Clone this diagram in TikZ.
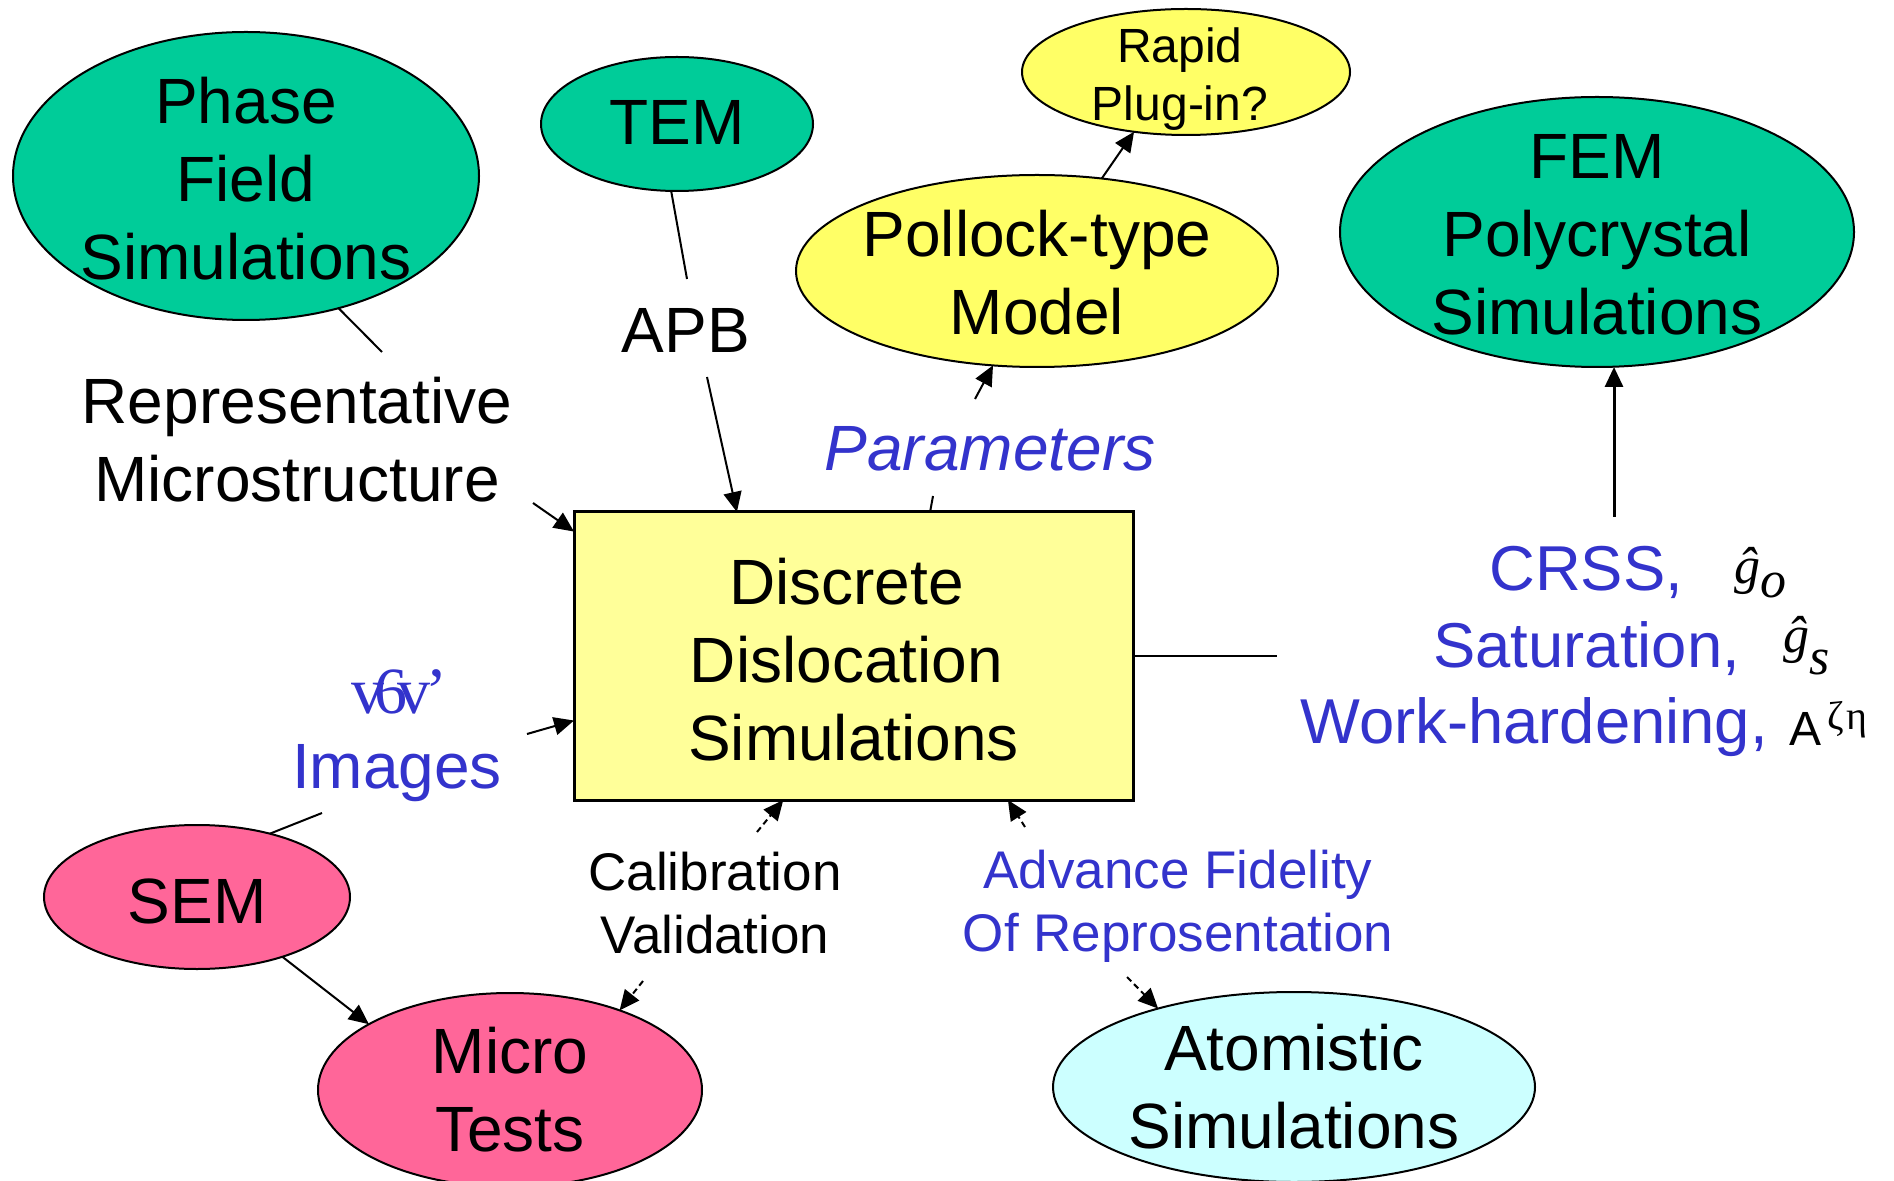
\documentclass[tikz,border=0pt]{standalone}
\usepackage{fontspec}
\setmainfont{Liberation Sans}
\newfontfamily\timesfont{Liberation Serif}
\usetikzlibrary{arrows.meta,shapes.geometric}
\definecolor{tealc}{HTML}{00CC99}
\definecolor{yellowc}{HTML}{FFFF66}
\definecolor{boxc}{HTML}{FFFF99}
\definecolor{pinkc}{HTML}{FF6699}
\definecolor{cyanc}{HTML}{CCFFFF}
\definecolor{bluec}{HTML}{3333CC}
\tikzset{
  bigtxt/.style={font=\fontsize{32}{39}\selectfont, align=center},
  midtxt/.style={font=\fontsize{26.5}{31.5}\selectfont, align=center},
  smalltxt/.style={font=\fontsize{24}{29}\selectfont, align=center},
  crsstxt/.style={font=\fontsize{31.7}{38}\selectfont, text=bluec, inner sep=0pt},
  mathtxt/.style={font=\timesfont\itshape\fontsize{26}{31}\selectfont, inner sep=0pt},
  ell/.style={ellipse, draw=black, line width=1pt, inner sep=0pt, outer sep=0pt},
  conn/.style={line width=1pt},
  arr/.style={conn, -{Triangle[length=10pt,width=9pt]}},
  darr/.style={arr, dash pattern=on 3pt off 2pt},
}
\begin{document}
\begin{tikzpicture}[x=0.5pt,y=-0.5pt]
\fill[white] (0,0) rectangle (1894,1181);
\useasboundingbox (0,0) rectangle (1894,1181);

% ellipses and box
\node[ell, fill=tealc, minimum width=233pt, minimum height=144pt,
  label={[bigtxt,yshift=-1.2pt]center:Phase\\Field\\Simulations}] (phase) at (246,176) {};
\node[ell, fill=tealc, minimum width=136pt, minimum height=67pt,
  label={[bigtxt,yshift=1pt]center:TEM}] (tem) at (677,124) {};
\node[ell, fill=yellowc, minimum width=164pt, minimum height=63pt,
  label={[smalltxt,yshift=-3.75pt,xshift=-3pt]center:Rapid\\Plug-in?}] (rapid) at (1186,72) {};
\node[ell, fill=yellowc, minimum width=241pt, minimum height=96pt,
  label={[bigtxt,yshift=-1pt]center:Pollock-type\\Model}] (pollock) at (1037,271) {};
\node[ell, fill=tealc, minimum width=257pt, minimum height=135pt,
  label={[bigtxt,yshift=-1.5pt]center:FEM\\Polycrystal\\Simulations}] (fem) at (1597,232) {};
\node[draw=black, line width=1.5pt, fill=boxc, minimum width=279.5pt, minimum height=144pt,
  inner sep=0pt, outer sep=0pt,
  label={[bigtxt,yshift=-1.8pt]center:Discrete\kern7pt\\Dislocation\kern7pt\\Simulations}] (box) at (853.5,656) {};
\node[ell, fill=pinkc, minimum width=153pt, minimum height=72pt,
  label={[bigtxt,yshift=-2pt]center:SEM}] (sem) at (197,897) {};
\node[ell, fill=pinkc, minimum width=192pt, minimum height=97pt,
  label={[bigtxt]center:Micro\\Tests}] (micro) at (510,1090) {};
\node[ell, fill=cyanc, minimum width=241pt, minimum height=95pt,
  label={[bigtxt]center:Atomistic\\Simulations}] (atom) at (1294,1087) {};

% text labels
\node[bigtxt] (repr) at (297,440) {Representative\\Microstructure};
\node[bigtxt, anchor=base] (apb) at (686,353) {APB};
\node[bigtxt, anchor=base, text=bluec, font=\fontsize{32}{39}\selectfont\itshape] (par) at (990,471) {Parameters};
\node[anchor=base, text=bluec, font=\timesfont\fontsize{33}{39}\selectfont] (vv) at (399,713) {v\kern-5pt 6\kern-5pt v\kern-2.5pt’};
\node[bigtxt, anchor=base, text=bluec] (img) at (397,788) {Images};
\node[midtxt] (cal) at (715,903) {Calibration\\Validation};
\node[midtxt, text=bluec] (adv) at (1178,906) {Advance Fidelity\\Of Reprosentation};

\node[crsstxt, anchor=base west] (crss1) at (1489,590) {CRSS,};
\node[mathtxt, anchor=base west] (g1) at (1734,583) {ĝ\raisebox{-7pt}{o}};
\node[crsstxt, anchor=base west] (crss2) at (1433,667) {Saturation,};
\node[mathtxt, anchor=base west] (g2) at (1783,652) {ĝ\raisebox{-11pt}{s}};
\node[crsstxt, anchor=base west] (crss3) at (1300,743) {Work-hardening,};
\node[anchor=base west, inner sep=0pt, font=\fontsize{24}{29}\selectfont] (aze) at (1789,745)
  {A\hspace{3pt}\raisebox{8pt}{\timesfont\fontsize{20}{24}\selectfont ζ\hspace{1.5pt}η}};

% free ends of connectors
\coordinate (reprTop) at (382,352);
\coordinate (reprBot) at (533,503);
\coordinate (apbTop) at (687,279);
\coordinate (apbBot) at (707,377);
\coordinate (parBot) at (933,496);
\coordinate (parTop) at (975,399);
\coordinate (crssTop) at (1614,517);
\coordinate (crssLeft) at (1277,656);
\coordinate (imgR) at (527,734);
\coordinate (imgL) at (322,813);
\coordinate (calTop) at (757,832);
\coordinate (calBot) at (643,981);
\coordinate (advTop) at (1025,827);
\coordinate (advBot) at (1127,977);

% connectors
\draw[conn] (phase.-55.3) -- (reprTop);
\draw[arr] (reprBot) -- (box.156.9);
\draw[conn] (tem.-95.9) -- (apbTop);
\draw[arr] (apbBot) -- (box.129.9);
\draw[conn] (box.62.96) -- (parBot);
\draw[arr] (parTop) -- (pollock.-115.8);
\draw[arr] (pollock.55.6) -- (rapid.-131.5);
\draw[arr, line width=1.5pt] (crssTop) -- (crssTop |- fem.south);
\draw[conn] (box.east) -- (crssLeft);
\draw[conn] (sem.41.7) -- (imgL);
\draw[arr] (imgR) -- (box.-167.1);
\draw[arr] (sem.-35.6) -- (micro.155.2);
\draw[darr] (calTop) -- (box.-116.7);
\draw[darr] (calBot) -- (micro.36.5);
\draw[darr] (advTop) -- (box.-43.17);
\draw[darr] (advBot) -- (atom.150.9);
\end{tikzpicture}
\end{document}
